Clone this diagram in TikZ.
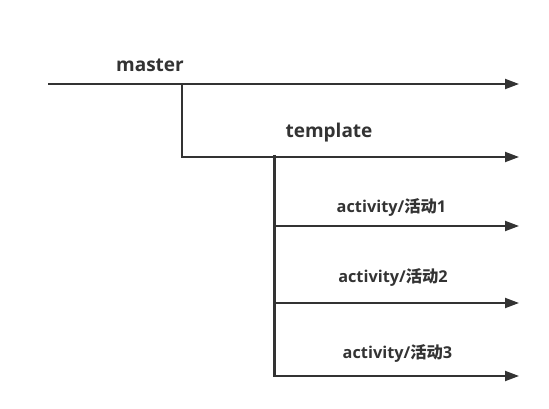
\documentclass[tikz,border=0pt]{standalone}
\usepackage{fontspec}
\setmainfont{Open Sans}[BoldFont={* Bold}]
\newfontfamily\cjk{Noto Sans CJK SC Bold}
\usetikzlibrary{arrows.meta}
\definecolor{inkgray}{HTML}{333333}
\tikzset{
  branch/.style={draw=inkgray,line width=2pt,-{Triangle[length=14pt,width=10pt]}},
  trunk/.style={draw=inkgray,line width=2pt},
  label/.style={text=inkgray,font=\bfseries\fontsize{19}{22}\selectfont,inner sep=0pt},
  actlabel/.style={label,font=\bfseries\fontsize{16.3}{19}\selectfont}
}
\begin{document}
\begin{tikzpicture}[x=1pt,y=-1pt]
  \useasboundingbox (0,0) rectangle (549,409);
  % master
  \coordinate (m0) at (48,84);
  \coordinate (m1) at (519,84);
  \coordinate (mj) at (182,84);
  \node [label] (lmaster) at (150,65) {master};
  \path [branch] (m0) -- (m1);
  % template
  \coordinate (t0) at (182,157);
  \coordinate (t1) at (519,157);
  \node [label] (ltemplate) at (329,133) {template};
  \path [branch] (mj) -- (t0) -- (t1);
  \coordinate (tj) at (274,155);
  \coordinate (tb) at (274,377);
  \path [trunk,line width=3pt] (tj) -- (tb);
  % activities
  \coordinate (a1) at (274,226);
  \coordinate (e1) at (519,226);
  \node [actlabel] (lact1) at (391.5,207) {activity/{\cjk 活动}1};
  \path [branch] (a1) -- (e1);
  \coordinate (a2) at (274,303);
  \coordinate (e2) at (519,303);
  \node [actlabel] (lact2) at (393,277) {activity/{\cjk 活动}2};
  \path [branch] (a2) -- (e2);
  \coordinate (a3) at (274,376);
  \coordinate (e3) at (519,376);
  \node [actlabel] (lact3) at (397.5,353) {activity/{\cjk 活动}3};
  \path [branch] (a3) -- (e3);
\end{tikzpicture}
\end{document}
